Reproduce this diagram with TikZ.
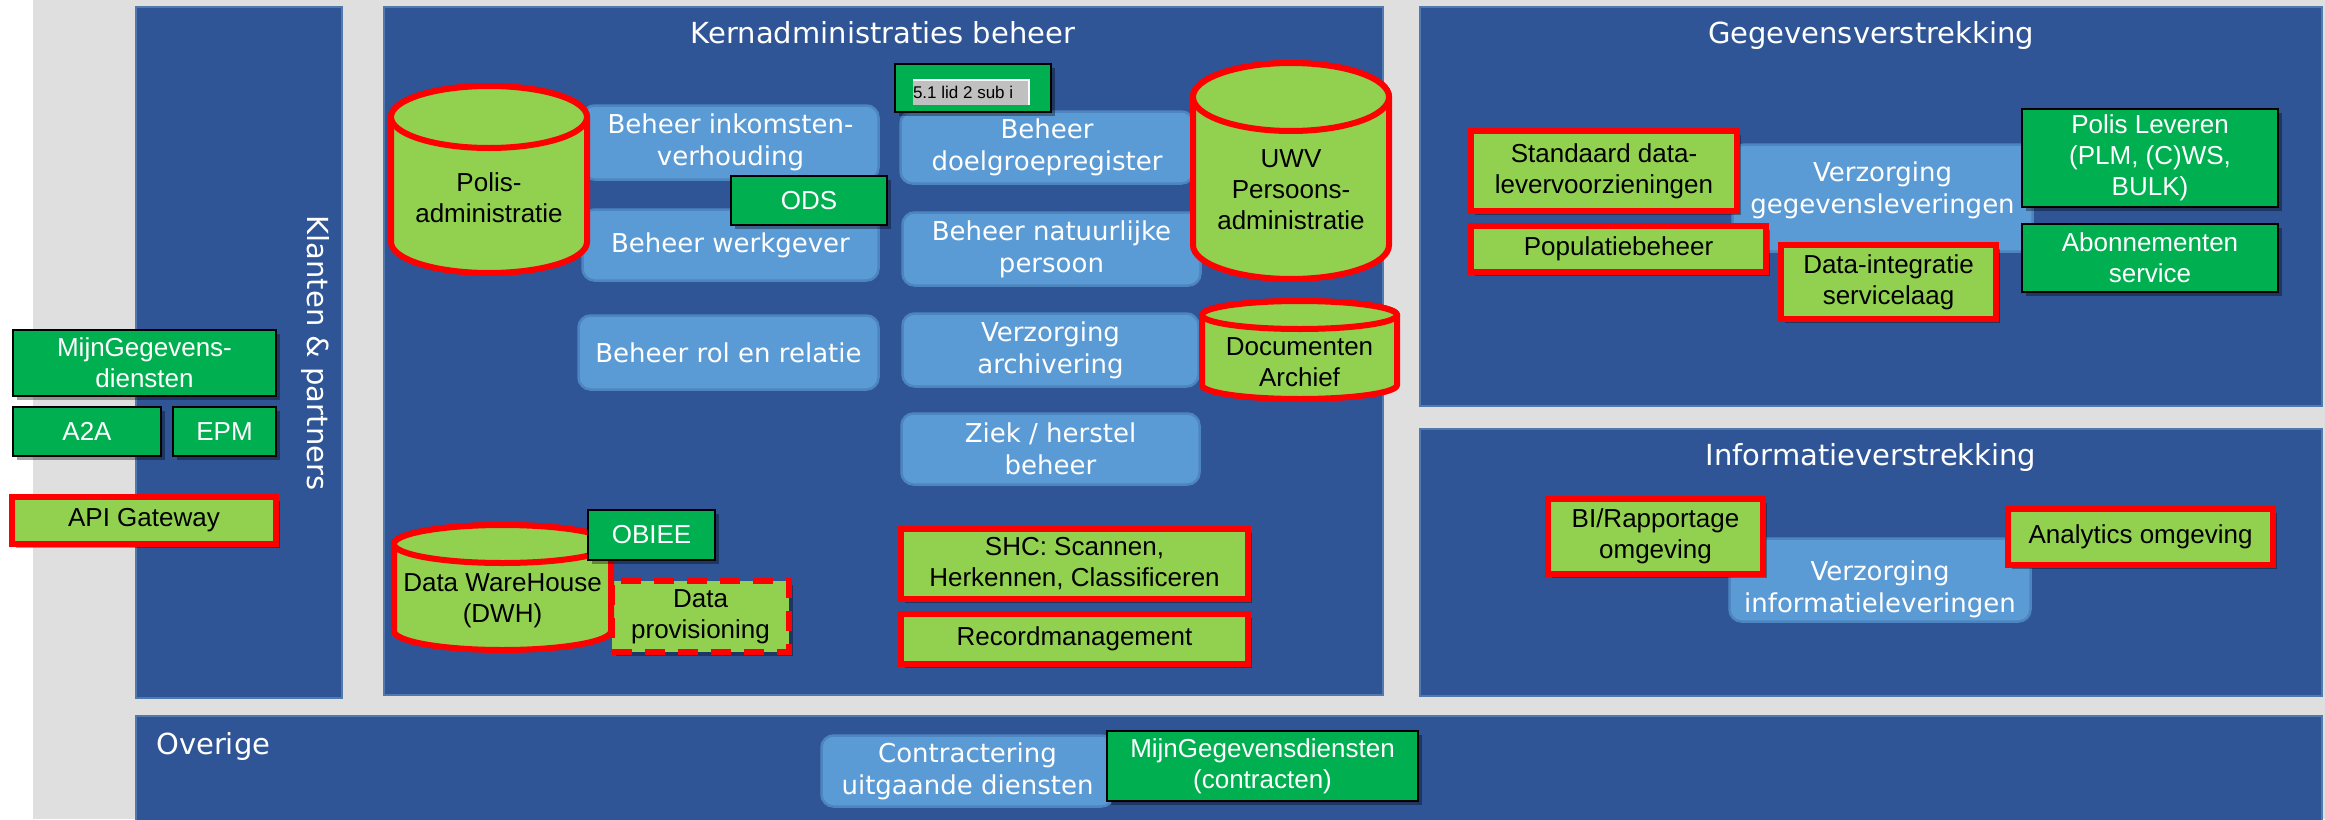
\documentclass[tikz,border=0pt]{standalone}
\usepackage{fontspec}
\setmainfont{Liberation Sans}
\newfontfamily\dejavu{DejaVu Sans}
\usetikzlibrary{shadows}
\definecolor{bggrey}{HTML}{DFDFDF}
\definecolor{panelblue}{HTML}{2F5597}
\definecolor{paneledge}{HTML}{5079AE}
\definecolor{boxblue}{HTML}{5B9BD5}
\definecolor{boxedge}{HTML}{4C85BF}
\definecolor{dkgreen}{HTML}{00B050}
\definecolor{ltgreen}{HTML}{92D050}
\definecolor{redline}{HTML}{FF0000}
\definecolor{fieldgrey}{HTML}{C0C0C0}
\tikzset{
  panel/.style={fill=panelblue, draw=paneledge, line width=2pt, inner sep=0pt, outer sep=0pt},
  ptitle/.style={text=white, inner sep=0pt, font=\dejavu\fontsize{29}{34}\selectfont},
  bluebox/.style={fill=boxblue, draw=boxedge, line width=2.5pt, rounded corners=12pt, inner sep=0pt,
    text=white, align=center, font=\dejavu\fontsize{26}{32}\selectfont},
  btext/.style={text=white, align=center, inner sep=0pt, font=\dejavu\fontsize{26}{32}\selectfont},
  shad/.style={drop shadow={shadow xshift=4pt, shadow yshift=-4pt, opacity=0.35, fill=black}},
  greenbox/.style={fill=dkgreen, draw=black, line width=2pt, inner sep=0pt, shad,
    text=white, align=center, font=\fontsize{26}{31}\selectfont},
  redbox/.style={fill=ltgreen, draw=redline, line width=6pt, inner sep=0pt, shad,
    text=black, align=center, font=\fontsize{26}{31}\selectfont},
  cylstyle/.style={fill=ltgreen, draw=redline, line width=6pt},
  ctext/.style={text=black, align=center, inner sep=0pt, font=\fontsize{26}{31}\selectfont},
}
% #1 cx, #2 top, #3 bottom, #4 rx, #5 ry
\newcommand\dbcyl[5]{%
  \path[cylstyle] ({#1-#4},{#2+#5}) -- ({#1-#4},{#3-#5})
     arc[start angle=180, end angle=360, x radius=#4pt, y radius=#5pt]
     -- ({#1+#4},{#2+#5})
     arc[start angle=0, end angle=180, x radius=#4pt, y radius=#5pt] -- cycle;
  \path[cylstyle] (#1,{#2+#5}) ellipse[x radius=#4pt, y radius=#5pt];
}
\begin{document}
\begin{tikzpicture}[x=1pt,y=-1pt]
\useasboundingbox (0,0) rectangle (2325,819);
\fill[white] (0,0) rectangle (33,819);
\fill[bggrey] (33,0) rectangle (2325,819);

% panels
\node[panel, minimum width=206pt, minimum height=691pt] (pklant) at (239,352.5) {};
\node[panel, minimum width=999pt, minimum height=688pt] (pkern) at (883.5,351) {};
\node[panel, minimum width=902pt, minimum height=399pt] (pgeg) at (1871,206.5) {};
\node[panel, minimum width=902pt, minimum height=267pt] (pinfo) at (1871,562.5) {};
\node[panel, minimum width=2186pt, minimum height=124pt] (povr) at (1229,778) {};

% titles
\node[ptitle, anchor=base] (tkern) at (883,43) {Kernadministraties beheer};
\node[ptitle, anchor=base] (tgeg) at (1871,43) {Gegevensverstrekking};
\node[ptitle, anchor=base] (tinfo) at (1871,465) {Informatieverstrekking};
\node[ptitle, anchor=base west] (tovr) at (156,754) {Overige};
\node[ptitle, rotate=-90] (tklant) at (315,353) {Klanten \& partners};

% Klanten & partners
\node[greenbox, minimum width=263pt, minimum height=66pt] (gmijn) at (144.5,363) {MijnGegevens-\\diensten};
\node[greenbox, minimum width=148pt, minimum height=49pt] (ga2a) at (87,431.5) {A2A};
\node[greenbox, minimum width=103pt, minimum height=49pt] (gepm) at (224.5,431.5) {EPM};
\node[redbox, minimum width=264pt, minimum height=47pt] (rapi) at (144,520.5) {API Gateway};

% Kernadministraties: blue boxes
\node[bluebox, minimum width=296pt, minimum height=74pt] (bink) at (730.5,142.5) {Beheer inkomsten-\\verhouding};
\node[bluebox, minimum width=296pt, minimum height=71pt] (bwerk) at (730.5,245) {Beheer werkgever};
\node[bluebox, minimum width=300pt, minimum height=74pt] (brol) at (728.5,352.5) {Beheer rol en relatie};
\node[bluebox, minimum width=293pt, minimum height=72pt] (bdoel) at (1047,147.5) {Beheer\\doelgroepregister};
\node[bluebox, minimum width=298pt, minimum height=73pt] (bnat) at (1051.5,249) {Beheer natuurlijke\\persoon};
\node[bluebox, minimum width=296pt, minimum height=73pt] (barch) at (1050.5,350) {Verzorging\\archivering};
\node[bluebox, minimum width=298pt, minimum height=71pt] (bziek) at (1050.5,449) {Ziek / herstel\\beheer};

% cylinders
\dbcyl{489}{86}{273}{98}{31}
\node[ctext] (cpolis) at (489,198) {Polis-\\administratie};
\dbcyl{1291}{63}{279}{98}{34}
\node[ctext] (cuwv) at (1291,190) {UWV\\Persoons-\\administratie};
\dbcyl{1299.5}{301}{399}{97.5}{14}
\node[ctext] (cdoc) at (1299.5,362) {Documenten\\Archief};

% ODS and 5.1 lid
\node[greenbox, minimum width=156pt, minimum height=49pt] (gods) at (809,200.5) {ODS};
\node[greenbox, minimum width=156pt, minimum height=48pt] (glid) at (973,88) {};
\node[fill=fieldgrey, minimum width=116pt, minimum height=25pt, inner sep=0pt] (lidf) at (971,92.5) {};
\draw[white, line width=2pt] (lidf.north west) -- (lidf.north east) -- (lidf.south east);
\node[anchor=west, inner sep=0pt, font=\fontsize{17}{20}\selectfont] (lidt) at (lidf.west) {5.1 lid 2 sub i};

% DWH group
\node[redbox, dash pattern=on 20pt off 13pt, minimum width=177pt, minimum height=71pt] (rdp) at (700.5,616.5) {Data\\provisioning};
\dbcyl{502.5}{525}{650}{108.5}{19}
\node[ctext] (cdwh) at (502.5,601) {Data WareHouse\\(DWH)};
\node[greenbox, minimum width=127pt, minimum height=50pt] (gobiee) at (651.5,535) {OBIEE};

\node[redbox, minimum width=347pt, minimum height=70pt] (rshc) at (1074.5,564) {SHC: Scannen,\\Herkennen, Classificeren};
\node[redbox, minimum width=347pt, minimum height=50pt] (rrec) at (1074.5,639) {Recordmanagement};

% Gegevensverstrekking
\node[bluebox, minimum width=300pt, minimum height=107pt] (bgeg) at (1882.5,198) {};
\node[btext] (bgegt) at (1882.5,190) {Verzorging\\gegevensleveringen};
\node[redbox, minimum width=266pt, minimum height=80pt] (rstd) at (1604,171) {Standaard data-\\levervoorzieningen};
\node[redbox, minimum width=295pt, minimum height=46pt] (rpop) at (1618.5,249) {Populatiebeheer};
\node[redbox, minimum width=215pt, minimum height=74pt] (rdis) at (1888.5,282) {Data-integratie\\servicelaag};
\node[greenbox, minimum width=256pt, minimum height=98pt] (gpolis) at (2150,158) {Polis Leveren\\(PLM, (C)WS,\\BULK)};
\node[greenbox, minimum width=256pt, minimum height=68pt] (gabo) at (2150,258) {Abonnementen\\service};

% Informatieverstrekking
\node[bluebox, minimum width=301pt, minimum height=83pt] (binfo) at (1880,580) {};
\node[btext] (binfot) at (1880,589) {Verzorging\\informatieleveringen};
\node[redbox, minimum width=215pt, minimum height=75pt] (rbi) at (1655.5,536.5) {BI/Rapportage\\omgeving};
\node[redbox, minimum width=265pt, minimum height=56pt] (rana) at (2140.5,537) {Analytics omgeving};

% Overige
\node[bluebox, minimum width=292pt, minimum height=71pt] (bcontr) at (967.5,771) {Contractering\\uitgaande diensten};
\node[greenbox, minimum width=311pt, minimum height=70pt] (gmgc) at (1262.5,766) {MijnGegevensdiensten\\(contracten)};
\end{tikzpicture}
\end{document}
